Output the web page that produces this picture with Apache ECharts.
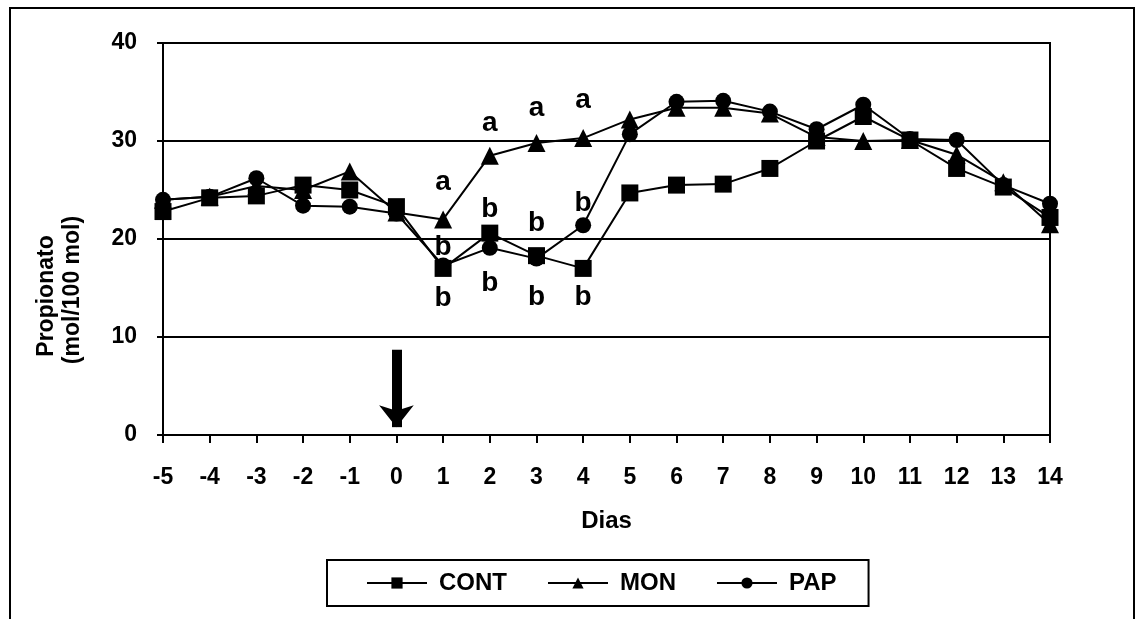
<!DOCTYPE html>
<html>
<head>
<meta charset="utf-8">
<script src="https://cdn.jsdelivr.net/npm/echarts@6/dist/echarts.min.js"></script>
<style>
html,body{margin:0;padding:0;background:#fff;}
#chart{width:1136px;height:619px;}
</style>
</head>
<body>
<div id="chart"></div>
<script>
const days = [-5,-4,-3,-2,-1,0,1,2,3,4,5,6,7,8,9,10,11,12,13,14];
const cont = [22.8,24.2,24.4,25.5,25.0,23.3,17.0,20.6,18.3,17.0,24.7,25.5,25.6,27.2,30.0,32.5,30.1,27.2,25.3,22.2];
const mon  = [24.0,24.3,25.4,25.0,26.9,22.7,22.0,28.5,29.8,30.3,32.2,33.4,33.4,32.8,30.4,30.0,30.1,28.6,25.8,21.5];
const pap  = [24.0,24.3,26.2,23.4,23.3,22.6,17.3,19.1,18.0,21.4,30.7,34.0,34.1,33.0,31.2,33.7,30.2,30.1,25.5,23.6];
const yTicks = [0,10,20,30,40];
// significance letters: [day, value, letter]
const letters = [
  [1,25.8,'a'],[2,31.8,'a'],[3,33.3,'a'],[4,34.2,'a'],
  [1,19.2,'b'],[2,23.0,'b'],[3,21.6,'b'],[4,23.6,'b'],
  [1,14.0,'b'],[2,15.5,'b'],[3,14.1,'b'],[4,14.1,'b']
];
const arrowDay = 0, arrowFrom = 8.7, arrowTo = 0.8;

const FONT = '"Liberation Sans", Arial, sans-serif';
const chart = echarts.init(document.getElementById('chart'));
const mk = (vals) => vals.map((v,i)=>[days[i], v]);
const lineSeries = (name, vals, symbol, size) => ({
  name, type:'line', data: mk(vals), symbol, symbolSize:size,
  itemStyle:{color:'#000'}, lineStyle:{color:'#000', width:2},
  emphasis:{disabled:true}, z:3
});
const sCont = lineSeries('CONT', cont, 'rect', 17);
sCont.markLine = {
  silent:true, symbol:['none','arrow'], symbolSize:[26,22],
  label:{show:false},
  lineStyle:{color:'#000', width:10, type:'solid'},
  data:[[{coord:[arrowDay, arrowFrom]},{coord:[arrowDay, arrowTo]}]]
};
chart.setOption({
  animation:false,
  backgroundColor:'#fff',
  textStyle:{fontFamily:FONT},
  graphic:[
    {type:'rect', shape:{x:10,y:8,width:1124,height:700}, style:{fill:'none', stroke:'#000', lineWidth:2}, z:-1},
    {type:'text', x:47, y:296, rotation:Math.PI/2, style:{text:'Propionato', font:'bold 23px '+FONT, fill:'#000', align:'center', verticalAlign:'middle'}},
    {type:'text', x:73, y:290, rotation:Math.PI/2, style:{text:'(mol/100 mol)', font:'bold 23px '+FONT, fill:'#000', align:'center', verticalAlign:'middle'}}
  ],
  grid:{left:163, right:86, top:43, bottom:184, show:true, borderColor:'#000', borderWidth:2},
  legend:{
    left:327, top:560,
    padding:[11,32,11,39], itemGap:40, itemWidth:60, itemHeight:14,
    borderColor:'#000', borderWidth:2,
    data:['CONT','MON','PAP'],
    textStyle:{fontFamily:FONT, fontWeight:'bold', fontSize:24, color:'#000', padding:[0,0,0,7]}
  },
  xAxis:{
    type:'value', min:-5, max:14, interval:1,
    name:'Dias', nameLocation:'middle', nameGap:74,
    nameTextStyle:{fontFamily:FONT, fontWeight:'bold', fontSize:24, color:'#000'},
    axisLine:{lineStyle:{color:'#000', width:2}},
    axisTick:{show:true, length:8, lineStyle:{color:'#000', width:2}},
    axisLabel:{fontFamily:FONT, fontWeight:'bold', fontSize:23, color:'#000', margin:31},
    splitLine:{show:false}
  },
  yAxis:{
    type:'value', min:0, max:40, interval:10,
    axisLine:{show:true, onZero:false, lineStyle:{color:'#000', width:2}},
    axisTick:{show:true, length:6, lineStyle:{color:'#000', width:2}},
    axisLabel:{fontFamily:FONT, fontWeight:'bold', fontSize:23, color:'#000', margin:26,
      formatter:v=> yTicks.includes(v) ? String(v) : ''},
    splitLine:{show:true, lineStyle:{color:'#000', width:2}}
  },
  series:[
    sCont,
    lineSeries('MON', mon, 'triangle', 18),
    lineSeries('PAP', pap, 'circle', 16),
    {
      name:'letters', type:'scatter', data:letters, symbolSize:0, symbol:'circle',
      itemStyle:{color:'#000', opacity:1}, silent:true, z:5,
      label:{show:true, position:'inside', formatter:p=>p.value[2],
        fontFamily:FONT, fontWeight:'bold', fontSize:28, color:'#000', opacity:1}
    }
  ]
});
</script>
</body>
</html>
